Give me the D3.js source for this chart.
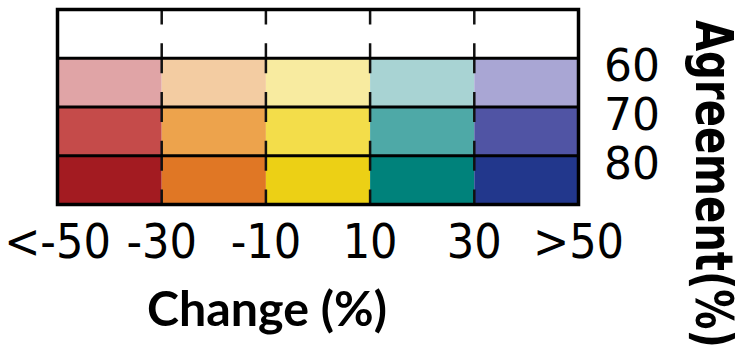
<!DOCTYPE html>
<html><head><meta charset="utf-8">
<script src="https://cdn.jsdelivr.net/npm/d3@7/dist/d3.min.js"></script>
<style>html,body{margin:0;padding:0;background:#fff;}svg{display:block;}</style>
</head><body>
<svg id="chart" width="746" height="353"></svg>
<script>
const changeBins = ["<-50 to -30", "-30 to -10", "-10 to 10", "10 to 30", "30 to >50"];
const changeTicks = ["<-50", "-30", "-10", "10", "30", ">50"];
const agreementRows = ["<60", "60", "70", "80"];
const agreementLabels = ["60", "70", "80"];
const rowColors = [
  ["#ffffff", "#ffffff", "#ffffff", "#ffffff", "#ffffff"],
  ["#e0a4a6", "#f3cca2", "#f8eba0", "#a8d3d3", "#a9a6d4"],
  ["#c54b4a", "#eda34c", "#f3dd4a", "#4ea9a7", "#5054a4"],
  ["#a31b21", "#e07725", "#ecd015", "#00827b", "#22378c"]
];
const xTitle = "Change (%)";
const yTitle = "Agreement(%)";

const svg = d3.select("#chart");
const x = d3.scaleBand().domain(changeBins).range([57.5, 578.5]).padding(0);
const y = d3.scaleBand().domain(agreementRows).range([9.5, 204.5]).padding(0);
const xEdge = d3.scaleLinear().domain([0, changeTicks.length - 1]).range([57.5, 578.5]);
const yEdge = d3.scaleLinear().domain([0, agreementRows.length]).range([9.5, 204.5]);

const cells = [];
agreementRows.forEach((r, i) => changeBins.forEach((c, j) => cells.push({r, c, color: rowColors[i][j]})));
svg.append("g").selectAll("rect").data(cells).join("rect")
  .attr("x", d => x(d.c)).attr("y", d => y(d.r))
  .attr("width", x.bandwidth()).attr("height", y.bandwidth())
  .attr("fill", d => d.color);

// vertical dashed dividers
const rowH = y.bandwidth();
svg.append("g").selectAll("line").data(d3.range(1, changeTicks.length - 1)).join("line")
  .attr("x1", i => xEdge(i)).attr("x2", i => xEdge(i))
  .attr("y1", yEdge(0)).attr("y2", yEdge(agreementRows.length))
  .attr("stroke", "#111").attr("stroke-width", 2.5)
  .attr("stroke-dasharray", `${rowH * 0.62} ${rowH * 0.38}`)
  .attr("stroke-dashoffset", rowH * 0.31);

// horizontal dividers
svg.append("g").selectAll("line").data(d3.range(1, agreementRows.length)).join("line")
  .attr("x1", xEdge(0)).attr("x2", xEdge(changeTicks.length - 1))
  .attr("y1", i => yEdge(i)).attr("y2", i => yEdge(i))
  .attr("stroke", "#000").attr("stroke-width", 3);

// border
svg.append("rect")
  .attr("x", xEdge(0)).attr("y", yEdge(0))
  .attr("width", xEdge(changeTicks.length - 1) - xEdge(0))
  .attr("height", yEdge(agreementRows.length) - yEdge(0))
  .attr("fill", "none").attr("stroke", "#000").attr("stroke-width", 3.5);

// x tick labels
svg.append("g").selectAll("text").data(changeTicks).join("text")
  .attr("x", (d, i) => xEdge(i)).attr("y", 258)
  .attr("text-anchor", "middle")
  .attr("font-family", "'DejaVu Sans Condensed', 'DejaVu Sans'")
  .attr("font-stretch", "condensed").attr("font-size", 48)
  .attr("fill", "#000").text(d => d);

// y labels
svg.append("g").selectAll("text").data(agreementLabels).join("text")
  .attr("x", 604).attr("y", (d, i) => yEdge(i + 1) + 23)
  .attr("font-family", "DejaVu Sans").attr("font-size", 44)
  .attr("fill", "#000").text(d => d);

// x title, squeezed horizontally to the reference width
const xt = svg.append("text")
  .attr("text-anchor", "middle")
  .attr("font-family", "Lato").attr("font-weight", 700).attr("font-size", 48)
  .attr("fill", "#000").text(xTitle);
const xtLen = xt.node().getComputedTextLength();
xt.attr("transform", `translate(267,326) scale(${240 / xtLen},1)`);

// y title, rotated and squeezed along its reading direction
const yt = svg.append("text")
  .attr("text-anchor", "start")
  .attr("font-family", "'DejaVu Sans Condensed', 'DejaVu Sans'")
  .attr("font-stretch", "condensed")
  .attr("font-weight", 700).attr("font-size", 52)
  .attr("fill", "#000").text(yTitle);
const ytLen = yt.node().getComputedTextLength();
yt.attr("transform", `translate(696,20) rotate(90) scale(${328 / ytLen},1)`);
</script>
</body></html>
